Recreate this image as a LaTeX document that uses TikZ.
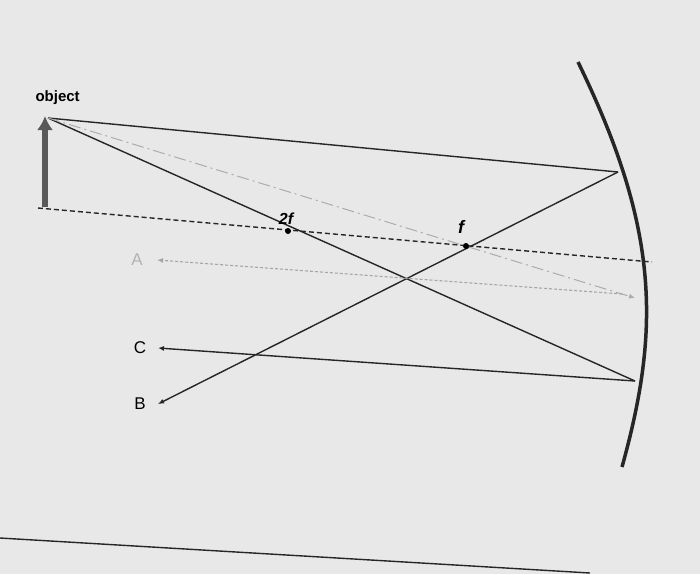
\documentclass[tikz,border=0pt]{standalone}
\usepackage{fontspec}
\setmainfont{Liberation Sans}
\begin{document}
\begin{tikzpicture}[x=1pt,y=-1pt,
  ray/.style={line width=1.4pt,black!85},
  axis/.style={line width=1.4pt,dash pattern=on 5pt off 3pt,black!85},
  lbl/.style={font=\fontsize{17}{17}\selectfont},
  tip/.style={-{Latex[length=6pt,width=5pt]}}]
\usetikzlibrary{arrows.meta}
\fill[gray!18] (0,0) rectangle (700,574);
\useasboundingbox (0,0) rectangle (700,574);
\coordinate (top) at (48,118);
\coordinate (base) at (45,207);
\coordinate (m1) at (618,172);
\coordinate (m2) at (635,381);
\coordinate (m3) at (635,298);
\coordinate (mA) at (622,294);
\coordinate (axL) at (38,208);
\coordinate (axR) at (652,262);
\node[font=\bfseries\fontsize{15}{15}\selectfont,anchor=south west] (obj) at (32,108) {object};
\node[lbl,text=gray!60] (A) at (137,260) {A};
\node[lbl] (C) at (140,348) {C};
\node[lbl] (B) at (140,404) {B};
\coordinate (Ae) at (157,260);
\coordinate (Ce) at (158,348);
\coordinate (Be) at (158,404);
% mirror
\draw[line width=3.5pt,black!85] (578,62) .. controls (660,230) and (660,330) .. (622,467);
% bottom line
\draw[line width=1.4pt,black!85] (0,538) -- (590,573);
% object arrow
\draw[line width=6pt,black!65,-{Latex[length=14pt,width=16pt]}] (base) -- (45,116);
% axis
\draw[axis] (axL) -- (axR);
% rays
\draw[ray] (top) -- (m1);
\draw[ray,tip] (m1) -- (Be);
\draw[ray] (top) -- (m2);
\draw[ray,tip] (m2) -- (Ce);
\draw[line width=1pt,gray!65,dash pattern=on 12pt off 4pt on 2pt off 4pt,tip] (top) -- (m3);
\draw[line width=1.1pt,gray!70,dash pattern=on 3pt off 2pt,tip] (mA) -- (Ae);
% focal points
\fill[black] (288,231) circle (3pt);
\fill[black] (466,246) circle (3pt);
\node[font=\itshape\bfseries\fontsize{16}{16}\selectfont] (f2) at (286,219) {2\textit{f}};
\node[font=\itshape\bfseries\fontsize{18}{18}\selectfont] (f1) at (461,227) {\textit{f}};
\end{tikzpicture}
\end{document}
